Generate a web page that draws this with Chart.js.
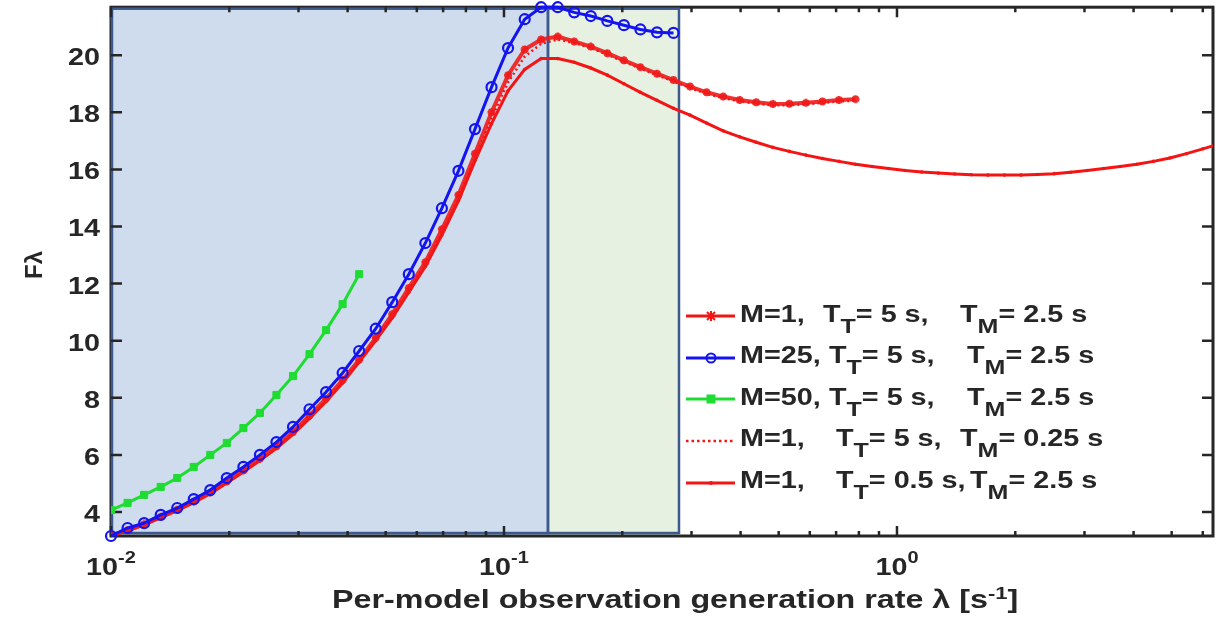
<!DOCTYPE html>
<html>
<head>
<meta charset="utf-8">
<script src="https://cdn.jsdelivr.net/npm/chart.js@4.4.0/dist/chart.umd.min.js"></script>
<style>
  body { margin: 0; background: #fff; }
  #wrap { position: relative; width: 1223px; height: 620px; overflow: hidden;
          font-family: "Liberation Sans", Arial, sans-serif; font-weight: bold; color: #262626; }
  #chart { position: absolute; left: 0; top: 0; }
  .txt { position: absolute; font-size: 23px; line-height: 23px; white-space: nowrap;
         transform: scaleX(1.25); transform-origin: 0 0; }
  .sub { position: relative; top: 11px; font-size: 20px; }
  .sup { position: relative; top: -9px; font-size: 17px; }
  #xtitle { font-size: 25px; line-height: 25px; transform: scaleX(1.29); }
  #ytitle { position: absolute; font-size: 24px; line-height: 24px; white-space: nowrap; }
  #legendLines { position: absolute; left: 680px; top: 290px; }
</style>
</head>
<body>
<div id="wrap">
  <canvas id="chart" width="1223" height="620"></canvas>

  <svg id="legendLines" width="60" height="210">
    <line x1="6" y1="26" x2="55" y2="26" stroke="#f51414" stroke-width="3"/>
    <path d="M27 22 L35 30 M35 22 L27 30 M31 21 L31 31" stroke="#f51414" stroke-width="2"/>
    <line x1="6" y1="68" x2="55" y2="68" stroke="#1414f0" stroke-width="3"/>
    <circle cx="31" cy="68" r="4.5" fill="none" stroke="#1414f0" stroke-width="2"/>
    <line x1="6" y1="109" x2="55" y2="109" stroke="#1edc32" stroke-width="3"/>
    <rect x="26.5" y="104.5" width="9" height="9" fill="#1edc32"/>
    <line x1="6" y1="151" x2="55" y2="151" stroke="#f51414" stroke-width="2.5" stroke-dasharray="2.5,3"/>
    <line x1="6" y1="193" x2="55" y2="193" stroke="#f51414" stroke-width="3"/>
    <circle cx="31" cy="193" r="2" fill="#f51414"/>
  </svg>

  <div class="txt" style="left:740px; top:302.5px">M=1,</div>
  <div class="txt" style="left:823px; top:302.5px">T<span class="sub">T</span>= 5 s,</div>
  <div class="txt" style="left:960px; top:302.5px">T<span class="sub">M</span>= 2.5 s</div>

  <div class="txt" style="left:740px; top:344px">M=25,</div>
  <div class="txt" style="left:829px; top:344px">T<span class="sub">T</span>= 5 s,</div>
  <div class="txt" style="left:967px; top:344px">T<span class="sub">M</span>= 2.5 s</div>

  <div class="txt" style="left:740px; top:385.5px">M=50,</div>
  <div class="txt" style="left:829px; top:385.5px">T<span class="sub">T</span>= 5 s,</div>
  <div class="txt" style="left:967px; top:385.5px">T<span class="sub">M</span>= 2.5 s</div>

  <div class="txt" style="left:740px; top:427px">M=1,</div>
  <div class="txt" style="left:836px; top:427px">T<span class="sub">T</span>= 5 s,</div>
  <div class="txt" style="left:960px; top:427px">T<span class="sub">M</span>= 0.25 s</div>

  <div class="txt" style="left:740px; top:468.5px">M=1,</div>
  <div class="txt" style="left:836px; top:468.5px">T<span class="sub">T</span>= 0.5 s,</div>
  <div class="txt" style="left:970px; top:468.5px">T<span class="sub">M</span>= 2.5 s</div>

  <div class="txt" id="xtitle" style="top:587px">Per-model observation generation rate λ [s<span class="sup">-1</span>]</div>
  <div id="ytitle">Fλ</div>
</div>

<script>
// rejilla de λ (escala log) compartida por todas las series
const xGrid = [0.01, 0.01102, 0.01214, 0.01338, 0.01474, 0.01624, 0.01789, 0.01971, 0.02172, 0.02393,
  0.02636, 0.02905, 0.03200, 0.03526, 0.03885, 0.04280, 0.04716, 0.05196, 0.05725, 0.06308,
  0.06950, 0.07658, 0.08437, 0.09296, 0.1024, 0.1129, 0.1243, 0.1370, 0.1509, 0.1663,
  0.1832, 0.2019, 0.2224, 0.2451, 0.2700, 0.2975, 0.3278, 0.3612, 0.3979, 0.4384,
  0.4831, 0.5322, 0.5864, 0.6461, 0.7119, 0.7843, 0.8642, 0.9522, 1.049, 1.156,
  1.274, 1.403, 1.546, 1.703, 1.877, 2.068, 2.278, 2.510, 2.766, 3.047,
  3.358, 3.699, 4.076, 4.491, 4.948, 5.452, 6.007, 6.618];

// M=25, TT=5 s, TM=2.5 s
const blueY = [3.16, 3.44, 3.61, 3.9, 4.14, 4.45, 4.77, 5.19, 5.58, 6.0,
  6.45, 6.98, 7.6, 8.2, 8.87, 9.64, 10.42, 11.35, 12.33, 13.42,
  14.64, 15.95, 17.41, 18.88, 20.25, 21.26, 21.68, 21.68, 21.5, 21.37,
  21.2, 21.05, 20.9, 20.8, 20.78];

// M=50, TT=5 s, TM=2.5 s
const greenY = [4.07, 4.32, 4.6, 4.88, 5.19, 5.58, 6.0, 6.42, 6.94, 7.47,
  8.1, 8.76, 9.53, 10.37, 11.28, 12.33];

// M=1, TT=5 s, TM=2.5 s
const redCrossY = [3.18, 3.36, 3.57, 3.83, 4.08, 4.37, 4.68, 5.07, 5.45, 5.86,
  6.3, 6.8, 7.38, 7.97, 8.62, 9.33, 10.1, 10.93, 11.85, 12.75,
  13.9, 15.1, 16.55, 18.0, 19.3, 20.2, 20.55, 20.65, 20.48, 20.3,
  20.07, 19.82, 19.58, 19.35, 19.13, 18.9, 18.7, 18.55, 18.43, 18.35,
  18.29, 18.3, 18.33, 18.38, 18.43, 18.46];

// M=1, TT=5 s, TM=0.25 s
const redDotY = [3.18, 3.35, 3.56, 3.81, 4.06, 4.35, 4.66, 5.05, 5.43, 5.83,
  6.27, 6.76, 7.33, 7.92, 8.57, 9.29, 10.05, 10.87, 11.78, 12.68,
  13.8, 15.0, 16.42, 17.8, 19.05, 19.95, 20.4, 20.55, 20.43, 20.25,
  20.02, 19.77, 19.53, 19.3, 19.08, 18.85, 18.65, 18.5, 18.38, 18.3,
  18.24, 18.25, 18.28, 18.33, 18.38, 18.41];

// M=1, TT=0.5 s, TM=2.5 s
const redSolidY = [3.18, 3.35, 3.55, 3.8, 4.05, 4.33, 4.64, 5.02, 5.4, 5.8,
  6.23, 6.72, 7.28, 7.87, 8.52, 9.25, 10.0, 10.8, 11.7, 12.6,
  13.7, 14.9, 16.3, 17.6, 18.75, 19.5, 19.88, 19.88, 19.75, 19.55,
  19.3, 19.0, 18.7, 18.42, 18.14, 17.9, 17.62, 17.35, 17.14, 16.95,
  16.77, 16.63, 16.5, 16.38, 16.28, 16.18, 16.1, 16.03, 15.96, 15.91,
  15.87, 15.84, 15.81, 15.8, 15.8, 15.8, 15.82, 15.85, 15.9, 15.96,
  16.03, 16.1, 16.18, 16.28, 16.4, 16.55, 16.72, 16.9];

// zonas sombreadas (límites en λ)
const bandEdges = [0.01, 0.1294, 0.2788];

const xMajor = [0.01, 0.1, 1];
const xMajorExp = ['-2', '-1', '0'];
const xMinor = [0.02, 0.03, 0.04, 0.05, 0.06, 0.07, 0.08, 0.09,
  0.2, 0.3, 0.4, 0.5, 0.6, 0.7, 0.8, 0.9, 2, 3, 4, 5, 6];
const yTicks = [4, 6, 8, 10, 12, 14, 16, 18, 20];

const RED = '#f51414', BLUE = '#1414f0', GREEN = '#1edc32', AXIS = '#262626';

function pts(ys) {
  return ys.map((y, i) => ({ x: xGrid[i], y: y }));
}

function wideText(ctx, str, x, y, align) {
  ctx.save();
  ctx.translate(x, y);
  ctx.scale(1.25, 1);
  ctx.textAlign = align;
  ctx.fillText(str, 0, 0);
  ctx.restore();
}

// fondo, marco, marcas hacia dentro y etiquetas de los ejes
const framePlugin = {
  id: 'framePlugin',
  beforeDatasetsDraw(chart) {
    const { ctx, chartArea: a, scales: { x, y } } = chart;
    const e = bandEdges.map(v => x.getPixelForValue(v));

    ctx.save();
    ctx.fillStyle = '#cfdcee';
    ctx.fillRect(e[0], a.top, e[1] - e[0], a.bottom - a.top);
    ctx.fillStyle = '#e6f1e2';
    ctx.fillRect(e[1], a.top, e[2] - e[1], a.bottom - a.top);

    // marco
    ctx.strokeStyle = AXIS;
    ctx.lineWidth = 3;
    ctx.strokeRect(a.left, a.top, a.right - a.left, a.bottom - a.top);

    // bordes de las zonas
    ctx.strokeStyle = '#3c5a8e';
    ctx.lineWidth = 2.5;
    ctx.strokeRect(e[0] + 1, a.top + 1.5, e[1] - e[0] - 1, a.bottom - a.top - 4.5);
    ctx.strokeRect(e[1], a.top + 1.5, e[2] - e[1], a.bottom - a.top - 4.5);

    // marcas
    ctx.strokeStyle = AXIS;
    ctx.lineWidth = 2.5;
    ctx.beginPath();
    xMajor.concat(xMinor).forEach(v => {
      const px = x.getPixelForValue(v);
      const len = xMajor.includes(v) ? 10 : 5;
      ctx.moveTo(px, a.bottom); ctx.lineTo(px, a.bottom - len);
      ctx.moveTo(px, a.top); ctx.lineTo(px, a.top + len);
    });
    yTicks.forEach(v => {
      const py = y.getPixelForValue(v);
      ctx.moveTo(a.left, py); ctx.lineTo(a.left + 11, py);
      ctx.moveTo(a.right, py); ctx.lineTo(a.right - 11, py);
    });
    ctx.stroke();

    // etiquetas
    ctx.fillStyle = AXIS;
    ctx.textBaseline = 'alphabetic';
    ctx.font = 'bold 23px "Liberation Sans", Arial, sans-serif';
    yTicks.forEach(v => {
      wideText(ctx, String(v), 100, y.getPixelForValue(v) + 10, 'right');
    });
    xMajor.forEach((v, i) => {
      const px = x.getPixelForValue(v);
      ctx.font = 'bold 23px "Liberation Sans", Arial, sans-serif';
      const w1 = ctx.measureText('10').width * 1.25;
      ctx.font = 'bold 16px "Liberation Sans", Arial, sans-serif';
      const w2 = ctx.measureText(xMajorExp[i]).width * 1.25;
      const start = px - (w1 + w2) / 2;
      ctx.font = 'bold 23px "Liberation Sans", Arial, sans-serif';
      wideText(ctx, '10', start, 575, 'left');
      ctx.font = 'bold 16px "Liberation Sans", Arial, sans-serif';
      wideText(ctx, xMajorExp[i], start + w1, 563, 'left');
    });
    ctx.restore();
  }
};

new Chart(document.getElementById('chart'), {
  type: 'line',
  data: {
    datasets: [
      {
        label: 'M=25, TT= 5 s, TM= 2.5 s',
        data: pts(blueY),
        borderColor: BLUE, borderWidth: 3,
        pointStyle: 'circle', pointRadius: 5, pointBorderWidth: 2.2,
        pointBorderColor: BLUE, pointBackgroundColor: 'rgba(0,0,0,0)',
        clip: 8, order: 1
      },
      {
        label: 'M=50, TT= 5 s, TM= 2.5 s',
        data: pts(greenY),
        borderColor: GREEN, borderWidth: 3,
        pointStyle: 'rect', pointRadius: 5, pointBorderWidth: 1,
        pointBorderColor: GREEN, pointBackgroundColor: GREEN,
        order: 1
      },
      {
        label: 'M=1, TT= 5 s, TM= 2.5 s',
        data: pts(redCrossY),
        borderColor: 'rgba(240,25,25,0.9)', borderWidth: 4,
        pointStyle: 'star', pointRadius: 4, pointBorderWidth: 2.5,
        pointBorderColor: 'rgba(240,25,25,0.9)',
        order: 2
      },
      {
        label: 'M=1, TT= 5 s, TM= 0.25 s',
        data: pts(redDotY),
        borderColor: RED, borderWidth: 2.5, borderDash: [2, 3],
        pointRadius: 0,
        order: 3
      },
      {
        label: 'M=1, TT= 0.5 s, TM= 2.5 s',
        data: pts(redSolidY),
        borderColor: RED, borderWidth: 3,
        pointStyle: 'circle', pointRadius: 1.8, pointBorderWidth: 0,
        pointBackgroundColor: RED,
        order: 4
      }
    ]
  },
  options: {
    responsive: false,
    animation: false,
    devicePixelRatio: 1,
    layout: { padding: { top: 7, right: 10, left: 0, bottom: 0 } },
    elements: { line: { tension: 0 } },
    plugins: { legend: { display: false }, tooltip: { enabled: false } },
    scales: {
      x: {
        type: 'logarithmic', min: 0.01, max: 6.37,
        grid: { display: false }, border: { display: false },
        ticks: { display: false },
        afterFit(s) { s.height = 84; }
      },
      y: {
        type: 'linear', min: 3.16, max: 21.68,
        grid: { display: false }, border: { display: false },
        ticks: { display: false },
        afterFit(s) { s.width = 111; }
      }
    }
  },
  plugins: [framePlugin]
});

// centrar los títulos de los ejes
const xt = document.getElementById('xtitle');
xt.style.left = (675 - xt.offsetWidth * 1.29 / 2) + 'px';
const yt = document.getElementById('ytitle');
yt.style.left = (34 - yt.offsetWidth / 2) + 'px';
yt.style.top = (265 - 12) + 'px';
yt.style.transform = 'rotate(-90deg)';
</script>
</body>
</html>
